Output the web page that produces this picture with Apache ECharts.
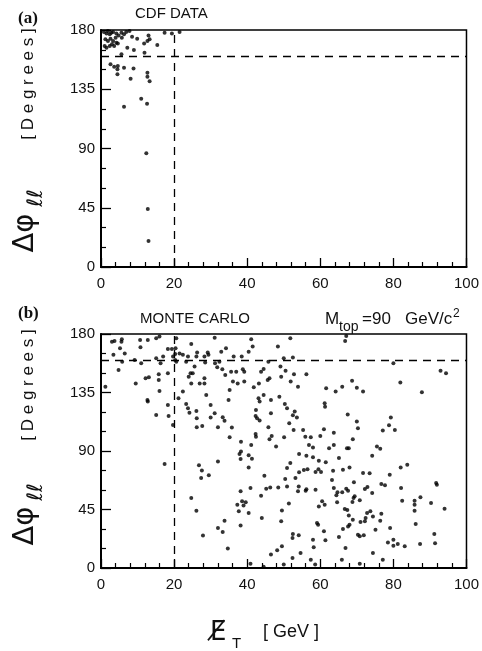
<!DOCTYPE html>
<html>
<head>
<meta charset="utf-8">
<script src="https://cdn.jsdelivr.net/npm/echarts@6/dist/echarts.min.js"></script>
<style>
html,body{margin:0;padding:0;background:#fff;}
#chart{width:482px;height:651px;}
</style>
</head>
<body>
<div id="chart"></div>
<script>
// (a) CDF data: [missing Et (GeV), delta phi ll (deg)]
const cdfData = [
  [0.8,178.4],[1.5,177.4],[1.9,179.2],[2.4,176.7],[2.8,177.9],[3.3,178.4],[4.2,177.4],[4.8,175.9],
  [5.6,177.9],[6.3,176.7],[6.9,178.4],[7.8,179.2],[1.2,172.9],[1.9,171.6],[2.6,173.4],[3.3,171.6],
  [4.0,174.1],[4.2,170.3],[3.0,169.1],[1.0,167.8],[1.5,166.5],[2.4,167.8],[3.6,167.8],[4.6,169.8],
  [5.7,174.1],[8.5,174.9],[9.9,173.4],[7.2,166.5],[9.0,164.8],[11.8,169.8],[12.7,171.6],[13.3,172.9],
  [13.0,175.9],[15.4,168.6],[11.9,162.7],[5.6,161.5],[17.4,177.9],[19.4,177.4],[21.5,178.4],
  [2.6,153.9],[3.6,152.1],[4.6,152.6],[4.5,150.1],[6.3,151.4],[8.9,150.8],[4.5,146.3],[8.1,143],
  [12.7,147.6],[12.7,144.5],[13.3,141],[11.0,127.8],[12.6,124],[6.3,121.7],[12.4,86.3],[12.8,44],[13.0,19.7]
];

// (b) Monte Carlo, Mtop = 90 GeV/c2
const mcData = [
  [3.0,174],[3.7,174.6],[5.6,174],[5.7,176],[3.4,164],[5.2,169],[6.5,165],[5.8,158.7],[4.8,152.3],
  [1.2,139.5],[10.7,175.4],[12.8,175.4],[10.8,169.8],[15.1,176.7],[16.0,178],[9.2,160],[11.0,157.5],
  [9.5,142],[12.2,146],[13.1,146.7],[15.1,161.3],[16.3,157.5],[17.0,162.6],[15.8,149],[15.8,144.6],
  [16.0,136.2],[18.3,149.8],[18.3,168.5],[19.4,168.5],[20.4,169],[20.6,176.7],[19.7,162.6],[20.3,164.6],
  [20.3,160],[20.6,158.7],[21.5,165],[22.4,164],[24.7,172.3],[23.3,158.7],[23.8,162.6],[26.3,165.7],
  [26.1,162.6],[25.6,155],[24.5,149.8],[25.1,149.8],[24.0,147.2],[24.7,142],[28.3,162.6],[29.2,165.7],
  [29.4,164],[28.5,158],[28.3,146],[28.3,142],[27.0,142],[28.8,133],[22.4,135.7],[21.2,130.5],
  [31.1,177.2],[31.2,157.5],[31.8,154.4],[32.4,158.7],[32.9,166.4],[33.2,152.8],[34.0,148.5],[34.2,169],
  [35.2,137],[34.9,129.3],[35.6,151],[36.3,162.6],[37.0,151],[36.1,143.4],[37.4,142],[38.5,162.6],
  [38.8,152.8],[39.2,151],[39.2,143.4],[40.4,166.4],[41.1,176],[41.5,170.3],[41.8,139],[43.2,142],
  [43.8,151],[44.5,153],[45.6,144.6],[46.1,146],[45.8,158.7],[48.4,170.3],[49.1,155],[49.3,147.2],
  [48.8,131.8],[46.5,129.3],[44.5,133],[43.1,130.5],[43.4,128],[23.3,126.2],[23.8,122.8],[24.2,119.5],
  [26.1,120.8],[26.2,115.2],[26.2,108.2],[27.7,109.3],[18.3,125.4],[18.5,117],[15.1,117.7],[12.7,129.3],
  [12.8,128],[19.7,110],[30.0,125.4],[31.1,119],[30.0,115.7],[32.0,108.2],[33.3,116],[33.8,113.3],
  [35.8,108],[35.2,100.5],[38.3,97.2],[42.3,103],[42.4,101],[42.4,121.6],[42.3,117],[42.7,115.2],
  [43.4,113.4],[45.8,108.2],[46.5,119],[46.1,99],[46.7,101.6],[47.9,93.4],[41.1,94.6],
  [51.8,176.7],[67.1,178.5],[66.8,174.6],[50.0,161.3],[52.5,162],[50.5,151.8],[52.8,149],[56.2,149],
  [51.9,143.4],[53.9,139.5],[61.6,138.2],[64.2,135.7],[66.0,139.5],[68.7,144],[70.0,138.7],[71.7,135.7],
  [80.0,157.5],[81.9,142.6],[87.8,135.2],[92.9,151.8],[94.4,149.8],[50.3,126.2],[50.9,122.8],[61.2,126.7],
  [61.3,124],[53.0,120.3],[52.5,117.5],[53.6,115.7],[51.5,111.3],[52.7,106.2],[55.3,106.2],[50.1,100.5],
  [55.9,101],[57.4,100.5],[60.0,101.6],[61.0,106.7],[63.7,104],[56.9,94.6],[58.0,92.6],[62.4,92.1],
  [63.7,94.6],[67.3,92.1],[67.8,92.1],[67.5,118],[70.0,112.6],[70.3,107.5],[68.9,99],[75.5,93.4],
  [76.4,91.8],[77.1,105.7],[78.8,109.8],[79.3,115.7],[80.4,106.2],
  [17.4,80],[26.8,79],[27.6,75],[27.4,69.2],[29.5,71.3],[32.0,82],[37.9,87.7],[38.3,89.7],[38.2,83.8],
  [40.4,86.7],[41.3,84],[40.4,77.4],[24.7,53.8],[26.1,44],[27.9,25],[32.0,30.8],[33.3,27.7],[33.8,36.4],
  [34.7,15],[38.2,59],[38.6,51.3],[37.3,48.7],[39.0,48],[39.6,50.5],[37.7,43.6],[40.4,42.3],[38.2,32.6],
  [40.9,61.5],[43.8,55.6],[44.7,71],[45.2,61],[46.3,62],[48.5,62],[44.0,38.5],[49.5,44.3],[49.3,36],
  [49.5,16.7],[48.2,13.6],[46.5,10.3],[40.9,3.3],[44.5,1],
  [54.2,87.7],[56.2,86.4],[58.0,85.1],[59.6,82.5],[61.5,81.3],[65.1,84.6],[74.2,86.4],[51.8,80.8],
  [50.9,76.9],[50.4,68.5],[50.9,62.6],[53.2,69.2],[54.2,73.6],[55.5,75.4],[56.5,75.9],[58.7,73.8],
  [59.5,75.9],[60.2,73.8],[63.5,74.9],[66.2,75.6],[68.0,77.4],[71.7,73.1],[73.5,72.8],[63.2,67.7],
  [69.2,65.9],[79.0,71.8],[82.0,77.4],[83.8,79.5],[76.7,64.6],[77.7,63.6],[54.1,62.6],[53.9,59],
  [56.0,59.5],[56.2,60.5],[58.7,60.2],[63.7,61.5],[64.7,58.2],[64.4,55.9],[66.0,58.2],[67.1,61],
  [67.6,59.5],[72.2,60.8],[72.9,62.3],[74.2,57.7],[69.4,55.1],[69.1,53.8],[70.8,52.1],[68.8,50.8],
  [64.6,50.5],[82.1,61.5],[82.4,51.8],[85.8,51.8],[85.8,48.7],[85.8,44.1],[87.4,54.4],[90.3,50],
  [91.7,65.4],[91.9,64.1],[94.0,45.6],[51.4,49.7],[59.6,47.4],[60.5,51.3],[61.2,48.7],[66.7,45.4],
  [67.4,44.6],[67.8,40.3],[68.9,37.2],[71.0,35.4],[72.2,35.9],[72.4,38.5],[72.8,42.3],[73.7,43.6],
  [74.4,39.7],[76.4,36.4],[76.7,41.8],[75.1,29.5],[79.1,30.8],[68.0,33.3],[67.6,32],[66.2,30],
  [70.3,25.6],[70.8,24.4],[71.9,25.1],[65.1,23.8],[59.1,34.6],[59.4,33.3],[61.0,28.2],[61.4,21.3],
  [58.0,21.8],[58.2,15.9],[66.9,15.4],[74.4,11.5],[52.5,26.1],[52.4,23.1],[54.1,25.1],[54.6,11.5],
  [52.4,7.7],[50.0,2.6],[57.4,6.4],[58.6,2.6],[65.9,6.4],[70.8,3.3],[77.1,6.4],[78.5,19.7],
  [80.0,21.8],[80.0,17.2],[81.2,18.5],[83.1,16.7],[86.1,33.8],[87.3,18.5],[91.2,26.1],[91.4,19]
];

// cut lines
const etCut = 20;
const phiCut = 160;

const sans = '"Liberation Sans", Arial, sans-serif';

var chart = echarts.init(document.getElementById('chart'), null, {renderer: 'canvas'});

function xAxisFor(idx) {
  return {
    gridIndex: idx, type: 'value', min: 0, max: 100, interval: 20,
    axisLine: {show: true, onZero: false, lineStyle: {color: '#000', width: 2}},
    axisTick: {show: true, inside: true, length: 9, lineStyle: {color: '#000', width: 1.3}},
    minorTick: {show: true, splitNumber: 5, length: 5, lineStyle: {color: '#000', width: 1.2}},
    splitLine: {show: false},
    axisLabel: {margin: 9, color: '#111', fontSize: 15, fontFamily: sans}
  };
}
function yAxisFor(idx) {
  return {
    gridIndex: idx, type: 'value', min: 0, max: 180, interval: 45,
    axisLine: {show: true, onZero: false, lineStyle: {color: '#000', width: 2}},
    axisTick: {show: true, inside: true, length: 10, lineStyle: {color: '#000', width: 1.3}},
    minorTick: {show: true, splitNumber: 3, length: 5, lineStyle: {color: '#000', width: 1.2}},
    splitLine: {show: false},
    axisLabel: {margin: 6, color: '#111', fontSize: 15, fontFamily: sans}
  };
}
function dots(idx, data) {
  return {
    type: 'scatter', xAxisIndex: idx, yAxisIndex: idx, data: data,
    symbolSize: 4, itemStyle: {color: '#000'}, silent: true,
    markLine: {
      silent: true, symbol: ['none', 'none'], label: {show: false},
      lineStyle: {color: '#000', type: [8, 6], width: 1.3},
      data: [{xAxis: etCut}, {yAxis: phiCut}]
    }
  };
}
function txt(x, y, text, font, extra) {
  return Object.assign({
    type: 'text', x: x, y: y,
    style: {text: text, font: font, fill: '#111', textAlign: 'left', textVerticalAlign: 'middle'}
  }, extra || {});
}
function vtxt(x, y, text, font) {
  return {
    type: 'text', x: x, y: y, rotation: Math.PI / 2,
    style: {text: text, font: font, fill: '#111', textAlign: 'center', textVerticalAlign: 'middle'}
  };
}

var option = {
  animation: false,
  backgroundColor: '#fff',
  grid: [
    {left: 101, top: 30, width: 366, height: 237, show: true, borderColor: '#000', borderWidth: 1.5},
    {left: 101, top: 334, width: 366, height: 234, show: true, borderColor: '#000', borderWidth: 1.5}
  ],
  xAxis: [xAxisFor(0), xAxisFor(1)],
  yAxis: [yAxisFor(0), yAxisFor(1)],
  series: [dots(0, cdfData), dots(1, mcData)],
  graphic: [
    txt(18, 19, '(a)', 'bold 17px "Liberation Serif", serif'),
    txt(135, 14, 'CDF DATA', '15px ' + sans),
    txt(18, 314, '(b)', 'bold 17px "Liberation Serif", serif'),
    txt(140, 319, 'MONTE CARLO', '15px ' + sans),
    txt(325, 319, 'M', '17px ' + sans),
    txt(339, 327, 'top', '14px ' + sans),
    txt(362, 319, '=90', '17px ' + sans),
    txt(405, 319, 'GeV/c', '17px ' + sans),
    txt(453, 314, '2', '12px ' + sans),
    vtxt(28, 84, '[ D e g r e e s ]', '17px ' + sans),
    vtxt(28, 385, '[ D e g r e e s ]', '17px ' + sans),
    vtxt(25, 233, 'Δφ', '29px "DejaVu Sans", sans-serif'),
    vtxt(37, 198, 'ℓℓ', 'italic 21px "DejaVu Sans", sans-serif'),
    vtxt(25, 526, 'Δφ', '29px "DejaVu Sans", sans-serif'),
    vtxt(37, 492, 'ℓℓ', 'italic 21px "DejaVu Sans", sans-serif'),
    txt(210, 633, 'E\u0338', '26px "DejaVu Sans", sans-serif'),
    txt(232, 644, 'T', '15px ' + sans),
    txt(263, 632, '[ GeV ]', '18px ' + sans)
  ]
};
chart.setOption(option);
</script>
</body>
</html>
